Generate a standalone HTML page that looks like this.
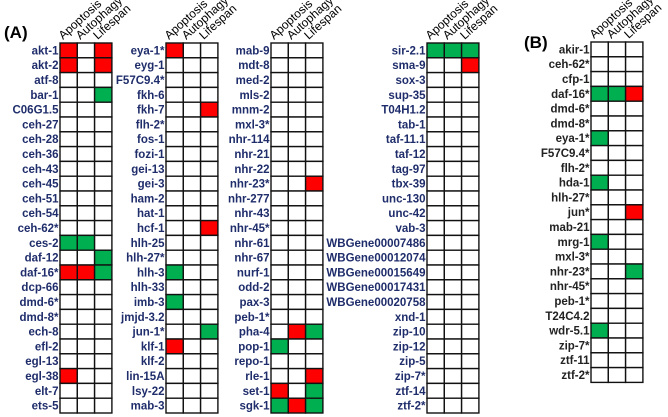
<!DOCTYPE html>
<html><head><meta charset="utf-8"><style>
html,body{margin:0;padding:0;background:#fff;width:668px;height:417px;overflow:hidden}
svg{display:block;font-family:"Liberation Sans",Arial,sans-serif}
</style></head><body>
<svg id="fig" width="668" height="417" viewBox="0 0 668 417" xmlns="http://www.w3.org/2000/svg">
<text x="4" y="38" font-size="17" font-weight="bold" fill="#000">(A)</text>
<text x="524" y="48" font-size="17" font-weight="bold" fill="#000">(B)</text>
</svg>
<script>
const categories = ["Apoptosis","Autophagy","Lifespan"];
const genesA1 = ["akt-1","akt-2","atf-8","bar-1","C06G1.5","ceh-27","ceh-28","ceh-36","ceh-43","ceh-45","ceh-51","ceh-54","ceh-62*","ces-2","daf-12","daf-16*","dcp-66","dmd-6*","dmd-8*","ech-8","efl-2","egl-13","egl-38","elt-7","ets-5"];
const genesA2 = ["eya-1*","eyg-1","F57C9.4*","fkh-6","fkh-7","flh-2*","fos-1","fozi-1","gei-13","gei-3","ham-2","hat-1","hcf-1","hlh-25","hlh-27*","hlh-3","hlh-33","imb-3","jmjd-3.2","jun-1*","klf-1","klf-2","lin-15A","lsy-22","mab-3"];
const genesA3 = ["mab-9","mdt-8","med-2","mls-2","mnm-2","mxl-3*","nhr-114","nhr-21","nhr-22","nhr-23*","nhr-277","nhr-43","nhr-45*","nhr-61","nhr-67","nurf-1","odd-2","pax-3","peb-1*","pha-4","pop-1","repo-1","rle-1","set-1","sgk-1"];
const genesA4 = ["sir-2.1","sma-9","sox-3","sup-35","T04H1.2","tab-1","taf-11.1","taf-12","tag-97","tbx-39","unc-130","unc-42","vab-3","WBGene00007486","WBGene00012074","WBGene00015649","WBGene00017431","WBGene00020758","xnd-1","zip-10","zip-12","zip-5","zip-7*","ztf-14","ztf-2*"];
const genesB = ["akir-1","ceh-62*","cfp-1","daf-16*","dmd-6*","dmd-8*","eya-1*","F57C9.4*","flh-2*","hda-1","hlh-27*","jun*","mab-21","mrg-1","mxl-3*","nhr-23*","nhr-45*","peb-1*","T24C4.2","wdr-5.1","zip-7*","ztf-11","ztf-2*"];
// cell values: "R" red, "G" green, "" empty — per gene: [apoptosis, autophagy, lifespan]
const valuesA1 = {"akt-1":["R","","R"],"akt-2":["R","","R"],"bar-1":["","","G"],"ces-2":["G","G",""],"daf-12":["","","G"],"daf-16*":["R","R","G"],"egl-38":["R","",""]};
const valuesA2 = {"eya-1*":["R","",""],"fkh-7":["","","R"],"hcf-1":["","","R"],"hlh-3":["G","",""],"imb-3":["G","",""],"jun-1*":["","","G"],"klf-1":["R","",""]};
const valuesA3 = {"nhr-23*":["","","R"],"pha-4":["","R","G"],"pop-1":["G","",""],"rle-1":["","","R"],"set-1":["R","","G"],"sgk-1":["G","R","G"]};
const valuesA4 = {"sir-2.1":["G","G","G"],"sma-9":["","","R"]};
const valuesB = {"daf-16*":["G","G","R"],"eya-1*":["G","",""],"hda-1":["G","",""],"jun*":["","","R"],"mrg-1":["G","",""],"nhr-23*":["","","G"],"wdr-5.1":["G","",""]};

const NS="http://www.w3.org/2000/svg";
const svg=document.getElementById('fig');
const CW=17.3, RH=14.8;
const colorMap={R:"#ff0000",G:"#00b050","":"#ffffff"};
function panel(name,genes,vals,x0,y0,labelColor){
  const g=document.createElementNS(NS,'g');
  
  
  svg.appendChild(g);
  categories.forEach((c,j)=>{
    const t=document.createElementNS(NS,'text');
    const tx=x0+j*CW+3, ty=y0-3;
    t.setAttribute('x',tx);t.setAttribute('y',ty);
    t.setAttribute('font-size','12');t.setAttribute('fill','#000');
    t.setAttribute('transform','rotate(-42 '+tx+' '+ty+')');
    t.textContent=c;
    
    
    g.appendChild(t);
  });
  genes.forEach((gn,i)=>{
    const y=y0+i*RH;
    const t=document.createElementNS(NS,'text');
    t.setAttribute('x',x0-1.5);t.setAttribute('y',y+RH/2+4);
    t.setAttribute('text-anchor','end');t.setAttribute('font-size','11.5');
    t.setAttribute('font-weight','bold');t.setAttribute('fill',labelColor);
    t.textContent=gn;
    
    
    g.appendChild(t);
    const v=vals[gn]||["","",""];
    categories.forEach((c,j)=>{
      const r=document.createElementNS(NS,'rect');
      r.setAttribute('x',x0+j*CW);r.setAttribute('y',y);
      r.setAttribute('width',CW);r.setAttribute('height',RH);
      r.setAttribute('fill',colorMap[v[j]]);
      r.setAttribute('stroke','#111');r.setAttribute('stroke-width','1.4');
      
      
      g.appendChild(r);
    });
  });
}
panel('panel-a-group-1',genesA1,valuesA1,60,43,'#1f2d6b');
panel('panel-a-group-2',genesA2,valuesA2,166,43,'#1f2d6b');
panel('panel-a-group-3',genesA3,valuesA3,271,43,'#1f2d6b');
panel('panel-a-group-4',genesA4,valuesA4,427,43,'#1f2d6b');
panel('panel-b-group',genesB,valuesB,591,42,'#222222');
</script>
</body></html>
